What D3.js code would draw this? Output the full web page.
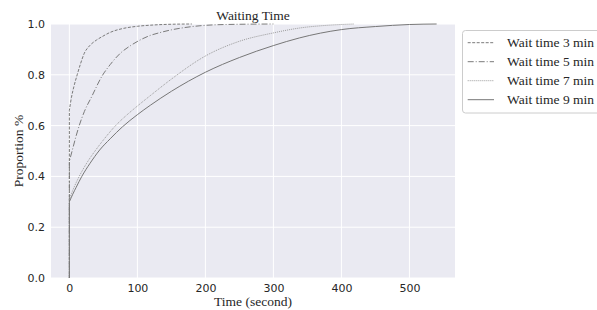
<!DOCTYPE html>
<html><head><meta charset="utf-8">
<script src="https://cdn.jsdelivr.net/npm/d3@7"></script>
<style>body{margin:0;background:#fff}svg{display:block}</style>
</head><body><svg id="c" width="597" height="310"></svg>
<script>
const seriesNames = ["Wait time 3 min","Wait time 5 min","Wait time 7 min","Wait time 9 min"];
const xTicks = [0,100,200,300,400,500];
const yTicks = [0.0,0.2,0.4,0.6,0.8,1.0];
const wait3X = [0,0,3,6.6,11.5,16,22,30,40,48,60,80,100,123,150,180];
const wait3Y = [0,0.66,0.71,0.753,0.80,0.84,0.885,0.915,0.937,0.95,0.967,0.983,0.991,0.996,0.999,1.0];
const wait5X = [0,0,5,10,14.5,22,33,48,60,75,90,104,119,133,150,167,192,230,300];
const wait5Y = [0,0.46,0.51,0.56,0.60,0.655,0.715,0.795,0.84,0.885,0.915,0.937,0.955,0.966,0.977,0.985,0.993,0.998,1.0];
const wait7X = [0,0,5,14.5,25,38.8,52,68,85,100,119,150,200,250,300,338,380,419];
const wait7Y = [0,0.31,0.345,0.40,0.45,0.504,0.55,0.60,0.643,0.677,0.718,0.783,0.874,0.932,0.965,0.984,0.995,1.0];
const wait9X = [0,0,5,10,18.3,30,44.6,60,78,100,119,150,200,250,300,338,400,450,500,540];
const wait9Y = [0,0.30,0.33,0.357,0.40,0.45,0.504,0.548,0.595,0.643,0.68,0.735,0.81,0.868,0.915,0.945,0.978,0.99,0.998,1.0];
const series = [[wait3X,wait3Y],[wait5X,wait5Y],[wait7X,wait7Y],[wait9X,wait9Y]];
const dashes = ["3,1.5","6,2,1,2","1,1","none"];
const colors = ["#7a7a7a","#7a7a7a","#9a9a9a","#777777"];

const svg = d3.select("#c");
const L=51, R=455, T=24, B=278;
const x = d3.scaleLinear().domain([-27,567]).range([L,R]);
const y = d3.scaleLinear().domain([0,1]).range([B,T]);

svg.append("rect").attr("x",L).attr("y",T).attr("width",R-L).attr("height",B-T).attr("fill","#EAEAF2");
svg.append("g").selectAll("line").data(xTicks).join("line")
  .attr("x1",d=>x(d)).attr("x2",d=>x(d)).attr("y1",T).attr("y2",B).attr("stroke","#fff").attr("stroke-width",1);
svg.append("g").selectAll("line").data(yTicks).join("line")
  .attr("y1",d=>y(d)).attr("y2",d=>y(d)).attr("x1",L).attr("x2",R).attr("stroke","#fff").attr("stroke-width",1);

const xAxis = svg.append("g").attr("transform",`translate(0,${B})`)
  .call(d3.axisBottom(x).tickValues(xTicks).tickSize(0).tickPadding(6.5).tickFormat(d3.format("d")));
const yAxis = svg.append("g").attr("transform",`translate(${L},0)`)
  .call(d3.axisLeft(y).tickValues(yTicks).tickSize(0).tickPadding(6).tickFormat(d3.format(".1f")));
[xAxis,yAxis].forEach(a=>{a.select(".domain").remove();
  a.selectAll("text").attr("font-family","'DejaVu Sans',sans-serif").attr("font-size",11).attr("fill","#262626");});

const smooth = d3.line().x(d=>x(d[0])).y(d=>y(d[1])).curve(d3.curveMonotoneX);
series.forEach((s,i)=>{
  const pts = s[0].map((v,j)=>[v,s[1][j]]);
  const rest = smooth(pts.slice(1));
  const d = `M${x(pts[0][0])},${y(pts[0][1])}L` + rest.slice(1);
  svg.append("path").attr("d",d).attr("fill","none")
    .attr("stroke",colors[i]).attr("stroke-width",1).attr("stroke-dasharray",dashes[i]);
});

const serif = "'Liberation Serif','Times New Roman',serif";
svg.append("text").attr("x",(L+R)/2).attr("y",20).attr("text-anchor","middle")
  .attr("font-family",serif).attr("font-size",13.5).attr("fill","#262626").text("Waiting Time");
svg.append("text").attr("x",(L+R)/2).attr("y",306).attr("text-anchor","middle")
  .attr("font-family",serif).attr("font-size",13.5).attr("fill","#262626").text("Time (second)");
svg.append("text").attr("transform",`translate(23,${(T+B)/2}) rotate(-90)`).attr("text-anchor","middle")
  .attr("font-family",serif).attr("font-size",13.5).attr("fill","#262626").text("Proportion %");

const lg = svg.append("g");
lg.append("rect").attr("x",462.5).attr("y",30.5).attr("width",140).attr("height",82.5).attr("rx",3)
  .attr("fill","#fff").attr("fill-opacity",0.8).attr("stroke","#cccccc").attr("stroke-width",1);
seriesNames.forEach((n,i)=>{
  const yy = 42.7 + i*19;
  lg.append("line").attr("x1",467.7).attr("x2",494).attr("y1",yy).attr("y2",yy)
    .attr("stroke",colors[i]).attr("stroke-width",1).attr("stroke-dasharray",dashes[i]);
  lg.append("text").attr("x",507).attr("y",yy+4.5).attr("font-family",serif).attr("font-size",13.5)
    .attr("fill","#262626").text(n);
});
</script></body></html>
